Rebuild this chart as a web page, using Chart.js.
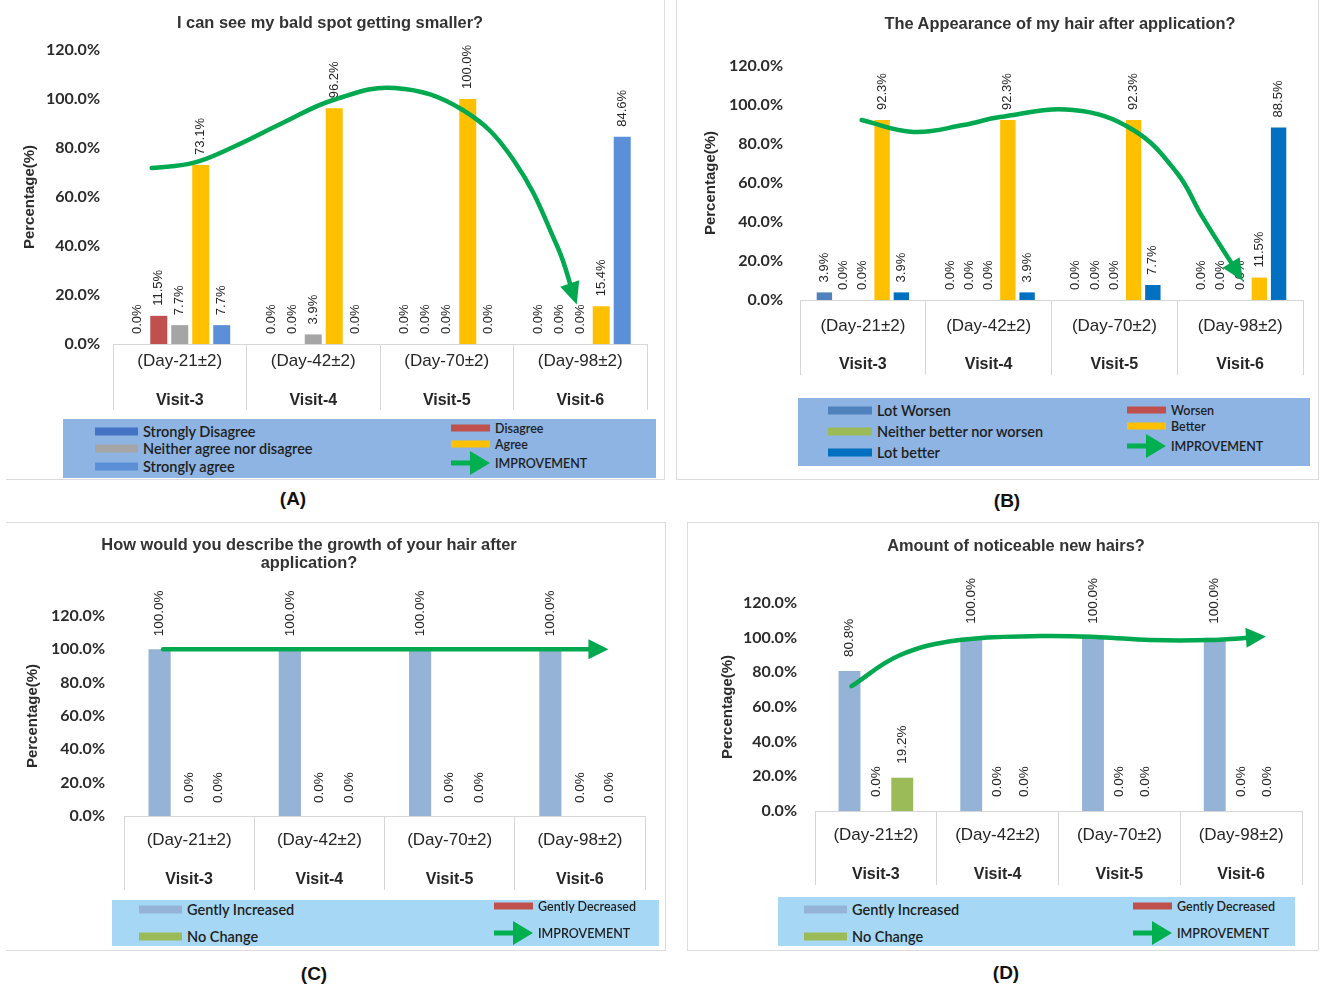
<!DOCTYPE html>
<html>
<head>
<meta charset="utf-8">
<title>Hair study questionnaire results</title>
<script src="https://cdn.jsdelivr.net/npm/chart.js@4.4.0/dist/chart.umd.min.js"></script>
<style>
  html, body { margin: 0; padding: 0; background: #fff; }
  body { width: 1320px; height: 988px; position: relative; overflow: hidden;
         font-family: "Liberation Sans", Arial, sans-serif; }
  .panel { position: absolute; }
  .panel canvas { position: absolute; left: 0; top: 0; }
  .frame { position: absolute; box-sizing: border-box; border: 0 solid #dcdcdc; }
  .ptitle { position: absolute; transform: translate(-50%, -50%); text-align: center;
            font: bold 16.4px "Liberation Sans", Arial, sans-serif; color: #333; white-space: nowrap; line-height: 18px; }
  .legend { position: absolute; }
  .lg { position: absolute; display: flex; align-items: center; white-space: nowrap;
        transform: translateY(-50%); color: #1e1e1e; font-family: Lato, "Open Sans", sans-serif; font-weight: 600; }
  .lg .sw { display: inline-block; margin-right: 5px; }
  .tag { position: absolute; transform: translate(-50%, -50%);
         font: bold 19px "Liberation Sans", Arial, sans-serif; color: #111; }
</style>
</head>
<body>
<script>
// ---- shared axis content ----
const visits = ['Visit-3', 'Visit-4', 'Visit-5', 'Visit-6'];
const visitDays = ['(Day-21\u00b12)', '(Day-42\u00b12)', '(Day-70\u00b12)', '(Day-98\u00b12)'];
const percentTicks = [0, 20, 40, 60, 80, 100, 120];
const improvementLabel = 'IMPROVEMENT';

// ---- (A) I can see my bald spot getting smaller? ----
const baldTitle = 'I can see my bald spot getting smaller?';
const baldNames = ['Strongly Disagree', 'Disagree', 'Neither agree nor disagree', 'Agree', 'Strongly agree'];
const baldStronglyDisagree = [0.0, 0.0, 0.0, 0.0];
const baldDisagree = [11.5, 0.0, 0.0, 0.0];
const baldNeither = [7.7, 3.9, 0.0, 0.0];
const baldAgree = [73.1, 96.2, 100.0, 15.4];
const baldStronglyAgree = [7.7, 0.0, 0.0, 84.6];
// improvement curve, x in visit units (0 = left edge of Visit-3, 4 = right edge of Visit-6)
const baldTrendX = [0.29, 0.60, 0.90, 1.27, 1.65, 2.11, 2.62, 3.00, 3.33, 3.45];
const baldTrendY = [71.8, 73.9, 80.4, 90.2, 99.6, 104.5, 95.5, 75.1, 39.6, 20.0];

// ---- (B) The Appearance of my hair after application? ----
const lookTitle = 'The Appearance of my hair after application?';
const lookNames = ['Lot Worsen', 'Worsen', 'Neither better nor worsen', 'Better', 'Lot better'];
const lookLotWorsen = [3.9, 0.0, 0.0, 0.0];
const lookWorsen = [0.0, 0.0, 0.0, 0.0];
const lookNeither = [0.0, 0.0, 0.0, 0.0];
const lookBetter = [92.3, 92.3, 92.3, 11.5];
const lookLotBetter = [3.9, 3.9, 7.7, 88.5];
const lookTrendX = [0.49, 0.90, 1.30, 1.59, 2.17, 2.65, 3.00, 3.20, 3.48];
const lookTrendY = [92.3, 86.2, 89.7, 93.8, 97.4, 87.2, 65.0, 42.6, 14.0];

// ---- (C) How would you describe the growth of your hair after application? ----
const growthTitle = ['How would you describe the growth of your hair after', 'application?'];
const growthNames = ['Gently Increased', 'Gently Decreased', 'No Change'];
const growthIncreased = [100.0, 100.0, 100.0, 100.0];
const growthDecreased = [0.0, 0.0, 0.0, 0.0];
const growthNoChange = [0.0, 0.0, 0.0, 0.0];
const growthTrendX = [0.30, 3.65];
const growthTrendY = [100.0, 100.0];

// ---- (D) Amount of noticeable new hairs? ----
const newHairTitle = 'Amount of noticeable new hairs?';
const newHairNames = ['Gently Increased', 'Gently Decreased', 'No Change'];
const newHairIncreased = [80.8, 100.0, 100.0, 100.0];
const newHairDecreased = [0.0, 0.0, 0.0, 0.0];
const newHairNoChange = [19.2, 0.0, 0.0, 0.0];
const newHairTrendX = [0.30, 0.70, 1.19, 1.85, 2.34, 2.75, 3.24, 3.63];
const newHairTrendY = [72.0, 90.0, 98.6, 100.9, 100.3, 98.6, 98.6, 100.3];

// ---- styling ----
const GREEN = '#00A94F';
const RULE = '#d6d6d6';
const TEXT = '#262626';

// Value labels above the bars and the two-row category captions under the axis
const barDecor = {
  id: 'barDecor',
  afterDatasetsDraw(chart, args, opts) {
    const ctx = chart.ctx;
    ctx.save();
    ctx.fillStyle = TEXT;
    ctx.font = opts.valueFont;
    ctx.textAlign = 'left';
    ctx.textBaseline = 'middle';
    chart.data.datasets.forEach((ds, di) => {
      chart.getDatasetMeta(di).data.forEach((bar, i) => {
        ctx.save();
        ctx.translate(bar.x, bar.y - opts.gap);
        ctx.rotate(-Math.PI / 2);
        ctx.fillText(ds.data[i].toFixed(1) + '%', 0, 0);
        ctx.restore();
      });
    });
    ctx.restore();
  },
  afterDraw(chart, args, opts) {
    const ctx = chart.ctx;
    const xs = chart.scales.x;
    const base = chart.chartArea.bottom;
    ctx.save();
    ctx.fillStyle = TEXT;
    ctx.textAlign = 'center';
    ctx.textBaseline = 'middle';
    visits.forEach((v, i) => {
      const x = xs.getPixelForTick(i);
      ctx.font = '17px "Liberation Sans", Arial, sans-serif';
      ctx.fillText(visitDays[i], x, base + opts.dayOffset);
      ctx.font = 'bold 16px "Liberation Sans", Arial, sans-serif';
      ctx.fillText(v, x, base + opts.visitOffset);
    });
    ctx.restore();
  }
};

// Arrow head at the end of the improvement curve
const arrowHead = {
  id: 'arrowHead',
  afterDatasetsDraw(chart, args, opts) {
    const pts = chart.getDatasetMeta(0).data;
    const last = pts[pts.length - 1];
    let px = last.cp1x, py = last.cp1y;
    if (px === undefined || (Math.abs(px - last.x) < 0.5 && Math.abs(py - last.y) < 0.5)) {
      px = pts[pts.length - 2].x; py = pts[pts.length - 2].y;
    }
    let dx = last.x - px, dy = last.y - py;
    const len = Math.hypot(dx, dy) || 1;
    dx /= len; dy /= len;
    const head = opts.headLen, half = opts.headHalf;
    const tipX = last.x + dx * head * 0.45, tipY = last.y + dy * head * 0.45;
    const bx = tipX - dx * head, by = tipY - dy * head;
    const ctx = chart.ctx;
    ctx.save();
    ctx.fillStyle = GREEN;
    ctx.beginPath();
    ctx.moveTo(tipX, tipY);
    ctx.lineTo(bx - dy * half, by + dx * half);
    ctx.lineTo(bx + dy * half, by - dx * half);
    ctx.closePath();
    ctx.fill();
    ctx.restore();
  }
};

function improvementArrow() {
  return '<svg class="sw" width="39" height="24" viewBox="0 0 39 24"><path d="M0 9.6 H19 V0 L39 12 L19 24 V14.4 H0 Z" fill="#00B050"/></svg>';
}

function makeCanvas(host, w, h) {
  const c = document.createElement('canvas');
  c.width = w; c.height = h;
  c.style.width = w + 'px'; c.style.height = h + 'px';
  host.appendChild(c);
  return c;
}

function buildPanel(p) {
  const [bx, by, bw, bh] = p.box;

  // thin separator lines around the panel
  const fr = document.createElement('div');
  fr.className = 'frame';
  Object.assign(fr.style, { left: (bx - 1) + 'px', top: (by - 1) + 'px', width: (bw + 2) + 'px', height: (bh + 2) + 'px' });
  ['Top', 'Right', 'Bottom', 'Left'].forEach((side, k) => { fr.style['border' + side + 'Width'] = p.edges[k] + 'px'; });
  document.body.appendChild(fr);

  const host = document.createElement('div');
  host.className = 'panel';
  Object.assign(host.style, { left: bx + 'px', top: by + 'px', width: bw + 'px', height: bh + 'px' });
  document.body.appendChild(host);

  // chart area in page coordinates
  const [aL, aT, aR, aB] = p.area;
  const yW = aL - bx;

  // grouped bars
  new Chart(makeCanvas(host, bw, bh), {
    type: 'bar',
    data: {
      labels: visits,
      datasets: p.series.map(s => ({ label: s.name, data: s.values, backgroundColor: s.color }))
    },
    plugins: [barDecor],
    options: {
      responsive: false, animation: false, devicePixelRatio: 1,
      categoryPercentage: p.catPct, barPercentage: p.barPct,
      layout: { padding: { left: 0, top: aT - by, right: (bx + bw) - aR, bottom: (by + bh) - (aB + p.tableH) } },
      plugins: {
        legend: { display: false }, tooltip: { enabled: false }, title: { display: false },
        barDecor: { gap: p.gap, valueFont: p.valueFont, dayOffset: p.dayOffset, visitOffset: p.visitOffset }
      },
      scales: {
        x: {
          type: 'category', offset: true,
          grid: { offset: true, drawOnChartArea: false, drawTicks: true, tickLength: p.tableH, color: RULE, lineWidth: 1 },
          border: { display: true, color: RULE },
          ticks: { display: false },
          afterFit: s => { s.height = p.tableH; }
        },
        y: {
          min: percentTicks[0], max: percentTicks[percentTicks.length - 1],
          afterBuildTicks: s => { s.ticks = percentTicks.map(v => ({ value: v })); },
          ticks: {
            callback: v => v.toFixed(1) + '%',
            font: { family: 'Lato', weight: 'bold', size: 16 }, color: '#2b2b2b',
            padding: aL - p.tickRight
          },
          grid: { display: false, drawTicks: false },
          border: { display: false },
          title: {
            display: true, text: 'Percentage(%)', color: '#2b2b2b',
            font: { family: '"Liberation Sans", Arial, sans-serif', weight: 'bold', size: 15, lineHeight: 1.2 },
            padding: { top: (p.yTitleX - bx) - 9, bottom: 0 }
          },
          afterFit: s => { s.width = yW; }
        }
      }
    }
  });

  // improvement curve drawn over the bars on the same value range
  new Chart(makeCanvas(host, bw, bh), {
    type: 'line',
    data: {
      datasets: [{
        label: improvementLabel,
        data: p.trendX.map((x, i) => ({ x: x, y: p.trendY[i] })),
        borderColor: GREEN, borderWidth: 4.5, borderCapStyle: 'round',
        pointRadius: 0, fill: false, tension: 0.4, clip: false
      }]
    },
    plugins: [arrowHead],
    options: {
      responsive: false, animation: false, devicePixelRatio: 1,
      layout: { padding: { left: aL - bx, top: aT - by, right: (bx + bw) - aR, bottom: (by + bh) - aB } },
      plugins: {
        legend: { display: false }, tooltip: { enabled: false },
        arrowHead: { headLen: p.headLen, headHalf: p.headHalf }
      },
      scales: {
        x: { type: 'linear', min: 0, max: visits.length, display: false },
        y: { type: 'linear', min: percentTicks[0], max: percentTicks[percentTicks.length - 1], display: false }
      }
    }
  });

  // heading
  const t = document.createElement('div');
  t.className = 'ptitle';
  t.innerHTML = [].concat(p.title).join('<br>');
  Object.assign(t.style, { left: p.titlePos[0] + 'px', top: p.titlePos[1] + 'px' });
  document.body.appendChild(t);

  // legend box
  const [lx, ly, lw, lh] = p.legendBox;
  const lg = document.createElement('div');
  lg.className = 'legend';
  Object.assign(lg.style, { left: lx + 'px', top: ly + 'px', width: lw + 'px', height: lh + 'px', background: p.legendBg });
  document.body.appendChild(lg);
  const entries = p.legendOrder.map(i => i < 0
    ? { name: improvementLabel, arrow: true }
    : { name: p.series[i].name, color: p.series[i].color });
  entries.forEach((e, k) => {
    const col = k % 2, row = Math.floor(k / 2);
    const it = document.createElement('div');
    it.className = 'lg';
    const x = col === 0 ? p.legLeftX : p.legRightX;
    const y = col === 0 ? p.legLeftRows[row] : p.legRightRows[row];
    Object.assign(it.style, { left: (x - lx) + 'px', top: (y - ly) + 'px',
                              fontSize: (col === 0 ? 14.5 : 12.5) + 'px' });
    const sw = e.arrow ? improvementArrow()
      : '<span class="sw" style="width:' + (col === 0 ? p.swL : 39) + 'px;height:' + (col === 0 ? 8 : 7) + 'px;background:' + e.color + '"></span>';
    it.innerHTML = sw + '<span>' + e.name + '</span>';
    lg.appendChild(it);
  });

  // panel letter
  const tag = document.createElement('div');
  tag.className = 'tag';
  tag.textContent = p.tag;
  Object.assign(tag.style, { left: p.tagPos[0] + 'px', top: p.tagPos[1] + 'px' });
  document.body.appendChild(tag);
}

buildPanel({
  tag: '(A)', tagPos: [293, 499], edges: [1, 1, 1, 0],
  box: [7, 0, 657, 479], area: [113, 50, 647, 344], tableH: 66,
  tickRight: 100, yTitleX: 30, dayOffset: 17, visitOffset: 57,
  title: baldTitle, titlePos: [330, 22],
  catPct: 0.786, barPct: 0.81, gap: 10, valueFont: '13px "Liberation Sans", Arial, sans-serif',
  headLen: 22, headHalf: 10,
  trendX: baldTrendX, trendY: baldTrendY,
  series: [
    { name: baldNames[0], values: baldStronglyDisagree, color: '#4472C4' },
    { name: baldNames[1], values: baldDisagree, color: '#C0504D' },
    { name: baldNames[2], values: baldNeither, color: '#A5A5A5' },
    { name: baldNames[3], values: baldAgree, color: '#FFC000' },
    { name: baldNames[4], values: baldStronglyAgree, color: '#5B8FD8' }
  ],
  legendBox: [63, 419, 593, 59], legendBg: '#8DB4E2',
  legendOrder: [0, 1, 2, 3, 4, -1],
  legLeftX: 95, legRightX: 451, legLeftRows: [431, 448, 466], legRightRows: [428, 444, 463], swL: 43
});

buildPanel({
  tag: '(B)', tagPos: [1007, 501], edges: [1, 1, 1, 1],
  box: [677, 0, 641, 479], area: [800, 66, 1303, 300], tableH: 75,
  tickRight: 783, yTitleX: 711, dayOffset: 26, visitOffset: 65,
  title: lookTitle, titlePos: [1060, 23],
  catPct: 0.765, barPct: 0.8, gap: 10, valueFont: '13px "Liberation Sans", Arial, sans-serif',
  headLen: 22, headHalf: 10,
  trendX: lookTrendX, trendY: lookTrendY,
  series: [
    { name: lookNames[0], values: lookLotWorsen, color: '#4F81BD' },
    { name: lookNames[1], values: lookWorsen, color: '#C0504D' },
    { name: lookNames[2], values: lookNeither, color: '#9BBB59' },
    { name: lookNames[3], values: lookBetter, color: '#FFC000' },
    { name: lookNames[4], values: lookLotBetter, color: '#0070C0' }
  ],
  legendBox: [798, 398, 512, 68], legendBg: '#8DB4E2',
  legendOrder: [0, 1, 2, 3, 4, -1],
  legLeftX: 828, legRightX: 1127, legLeftRows: [410, 431, 452], legRightRows: [410, 426, 446], swL: 44
});

buildPanel({
  tag: '(C)', tagPos: [314, 974], edges: [1, 1, 1, 0],
  box: [7, 523, 658, 427], area: [124, 616, 645, 816], tableH: 74,
  tickRight: 105, yTitleX: 33, dayOffset: 24, visitOffset: 64,
  title: growthTitle, titlePos: [309, 553],
  catPct: 0.68, barPct: 0.75, gap: 13, valueFont: '13.5px "Liberation Sans", Arial, sans-serif',
  headLen: 20, headHalf: 10,
  trendX: growthTrendX, trendY: growthTrendY,
  series: [
    { name: growthNames[0], values: growthIncreased, color: '#95B3D7' },
    { name: growthNames[1], values: growthDecreased, color: '#C0504D' },
    { name: growthNames[2], values: growthNoChange, color: '#9BBB59' }
  ],
  legendBox: [112, 900, 547, 46], legendBg: '#A6D8F5',
  legendOrder: [0, 1, 2, -1],
  legLeftX: 139, legRightX: 494, legLeftRows: [909, 936], legRightRows: [906, 933], swL: 43
});

buildPanel({
  tag: '(D)', tagPos: [1006, 973], edges: [1, 1, 1, 1],
  box: [688, 523, 630, 427], area: [815, 603, 1302, 811], tableH: 74,
  tickRight: 797, yTitleX: 728, dayOffset: 24, visitOffset: 64,
  title: newHairTitle, titlePos: [1016, 545],
  catPct: 0.65, barPct: 0.83, gap: 14, valueFont: '13.5px "Liberation Sans", Arial, sans-serif',
  headLen: 20, headHalf: 10,
  trendX: newHairTrendX, trendY: newHairTrendY,
  series: [
    { name: newHairNames[0], values: newHairIncreased, color: '#95B3D7' },
    { name: newHairNames[1], values: newHairDecreased, color: '#C0504D' },
    { name: newHairNames[2], values: newHairNoChange, color: '#9BBB59' }
  ],
  legendBox: [778, 897, 517, 49], legendBg: '#A6D8F5',
  legendOrder: [0, 1, 2, -1],
  legLeftX: 804, legRightX: 1133, legLeftRows: [909, 936], legRightRows: [906, 933], swL: 43
});
</script>
</body>
</html>
